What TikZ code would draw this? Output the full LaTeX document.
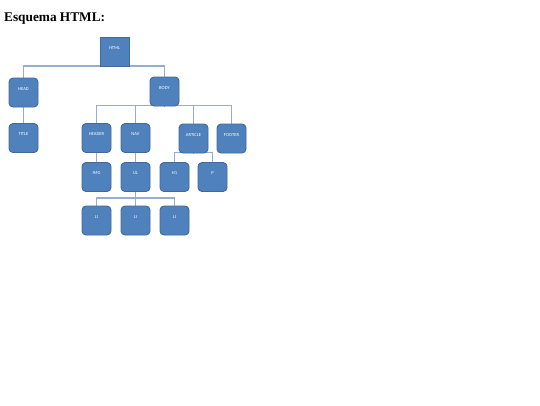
\documentclass[tikz,border=0pt]{standalone}
\usepackage{fontspec}
\setmainfont{Liberation Serif}
\newfontfamily\boxfont{Carlito}
\usetikzlibrary{backgrounds}
\definecolor{boxfill}{HTML}{4F81BD}
\definecolor{boxline}{HTML}{41699B}
\definecolor{connline}{RGB}{150,174,204}
\begin{document}
\begin{tikzpicture}[x=1pt,y=-1pt,
  tbox/.style={draw=boxline, fill=boxfill, line width=0.9pt, minimum width=29pt, minimum height=29pt, inner sep=0pt, rounded corners=4pt,
    label={[text=white, font=\boxfont\fontsize{4.6}{5}\selectfont, yshift=3.5pt, inner sep=0pt]center:#1}},
  sqbox/.style={tbox=#1, rounded corners=0pt},
  conn/.style={draw=connline, line width=1.4pt}]
\useasboundingbox (0,0) rectangle (540,405);
\node[anchor=base west, inner sep=0pt, font=\bfseries\fontsize{13.3}{16}\selectfont] (title) at (4,21.5) {Esquema HTML:};

\node[sqbox=HTML] (html) at (114.5,52) {};
\node[tbox=HEAD] (head) at (23.5,92.5) {};
\node[tbox=TITLE] (ttl) at (23.5,138) {};
\node[tbox=BODY] (body) at (164.5,91.5) {};
\node[tbox=HEADER] (header) at (96.5,138) {};
\node[tbox=NAV] (nav) at (135.5,138) {};
\node[tbox=ARTICLE] (article) at (193.5,138.5) {};
\node[tbox=FOOTER] (footer) at (231.5,138.5) {};
\node[tbox=IMG] (img) at (96.5,177) {};
\node[tbox=UL] (ul) at (135.5,177) {};
\node[tbox=H1] (hone) at (174.5,177) {};
\node[tbox=P] (p) at (212.5,177) {};
\node[tbox=LI] (lia) at (96.5,220.5) {};
\node[tbox=LI] (lib) at (135.5,220.5) {};
\node[tbox=LI] (lic) at (174.5,220.5) {};

\coordinate (bA) at (0,66);
\coordinate (bB) at (0,105.5);
\coordinate (bC) at (0,152.5);
\coordinate (bD) at (0,198);

\begin{scope}[on background layer]
\fill[white] (0,0) rectangle (540,405);
\draw[conn] (html.south) -- (html.south |- bA);
\draw[conn] (head.north) -- (head.north |- bA) -- (body.north |- bA) -- (body.north);
\draw[conn] (head.south) -- (ttl.north);
\draw[conn] (header.north) -- (header.north |- bB) -- (footer.north |- bB) -- (footer.north);
\draw[conn] (nav.north) -- (nav.north |- bB);
\draw[conn] (article.north) -- (article.north |- bB);
\draw[conn] (body.south) -- (body.south |- bB);
\draw[conn] (header.south) -- (img.north);
\draw[conn] (nav.south) -- (ul.north);
\draw[conn] (hone.north) -- (hone.north |- bC) -- (p.north |- bC) -- (p.north);
\draw[conn] (article.south) -- (article.south |- bC);
\draw[conn] (ul.south) -- (ul.south |- bD);
\draw[conn] (lia.north) -- (lia.north |- bD) -- (lic.north |- bD) -- (lic.north);
\draw[conn] (lib.north) -- (lib.north |- bD);
\end{scope}
\end{tikzpicture}
\end{document}
